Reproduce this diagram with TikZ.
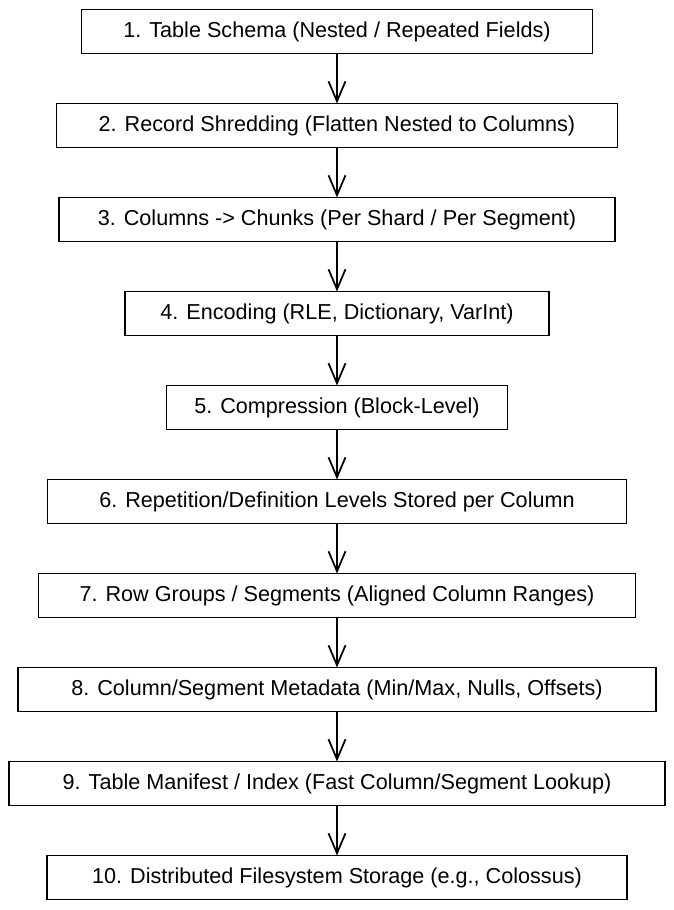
\documentclass[tikz,border=0pt]{standalone}
\usepackage{fontspec}
\setmainfont{Liberation Sans}
\usepackage{tikz}
\usetikzlibrary{arrows.meta,positioning,calc}

\begin{document}
\begin{tikzpicture}[
  box/.style={draw, line width=1.1pt, font=\fontsize{12.3}{14}\selectfont,
    align=center, inner sep=2pt, outer sep=0pt, minimum height=0.88cm},
  arr/.style={line width=1pt, -{Straight Barb[length=0.4cm, width=0.34cm, line width=1pt]}}]
\useasboundingbox (0,0) rectangle (13.48,-18.2);
\node[box, minimum width=10.22cm] (a) at (6.74,-0.63) {1. Table Schema (Nested / Repeated Fields)};
\node[box, minimum width=11.22cm, below=1.0 of a] (b) {2. Record Shredding (Flatten Nested to Columns)};
\node[box, minimum width=11.12cm, below=1.0 of b] (c) {3. Columns -> Chunks (Per Shard / Per Segment)};
\node[box, minimum width=8.48cm, below=1.0 of c] (d) {4. Encoding (RLE, Dictionary, VarInt)};
\node[box, minimum width=6.82cm, below=1.0 of d] (e) {5. Compression (Block-Level)};
\node[box, minimum width=11.58cm, below=1.0 of e] (f) {6. Repetition/Definition Levels Stored per Column};
\node[box, minimum width=11.94cm, below=1.0 of f] (g) {7. Row Groups / Segments (Aligned Column Ranges)};
\node[box, minimum width=12.76cm, below=1.0 of g] (h) {8. Column/Segment Metadata (Min/Max, Nulls, Offsets)};
\node[box, minimum width=13.12cm, below=1.0 of h] (i) {9. Table Manifest / Index (Fast Column/Segment Lookup)};
\node[box, minimum width=11.6cm, below=1.0 of i] (j) {10. Distributed Filesystem Storage (e.g., Colossus)};
\foreach \u/\v in {a/b,b/c,c/d,d/e,e/f,f/g,g/h,h/i,i/j}
  \draw[arr] (\u) -- (\v);
\end{tikzpicture}
\end{document}
